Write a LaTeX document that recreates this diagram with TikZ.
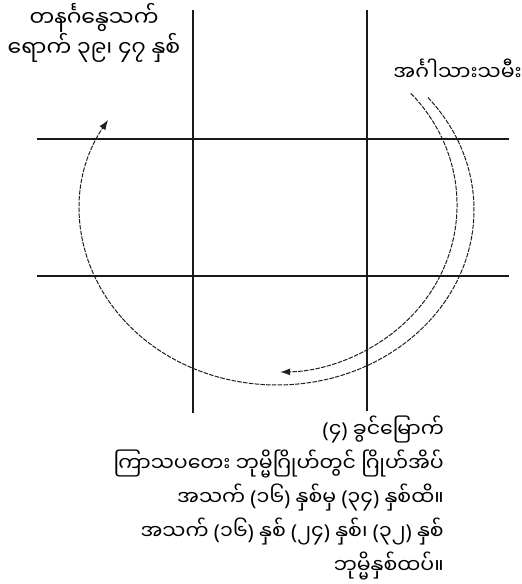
\documentclass[tikz,border=0pt]{standalone}
\usepackage{fontspec}
\newfontfamily\mmfont[Script=Myanmar]{Noto Sans Myanmar UI}
\newfontfamily\parfont{Noto Sans}
\newcommand{\mmlp}{{\parfont(}}
\newcommand{\mmrp}{{\parfont)}}
\usetikzlibrary{arrows.meta, positioning}
\definecolor{GridInk}{RGB}{25, 25, 25}
\definecolor{ArcInk} {RGB}{30, 30, 30}
\tikzset{
  % House grid lines
  gridline/.style={
    line width=1.2pt, color=GridInk
  },
  % Dashed orbit arcs
  orbit/.style={
    line width=1pt, color=ArcInk, dash pattern=on 4.5pt off 1.3pt,
    -{Latex[length=10pt, width=7pt]}
  },
  % Burmese text
  mmtext/.style={
    font=\mmfont\fontsize{20.5}{30}\selectfont, inner sep=0pt
  }
}

\begin{document}
\begin{tikzpicture}[x=1pt, y=1pt]
  \useasboundingbox (0,0) rectangle (522,-584);

  % ── Grid ──────────────────────────────────────────────────────────────────
  \coordinate (colA top) at (193,-10);  \coordinate (colA bot) at (193,-413);
  \coordinate (colB top) at (367,-10);  \coordinate (colB bot) at (367,-411);
  \coordinate (rowA lft) at (37,-139);  \coordinate (rowA rgt) at (509,-139);
  \coordinate (rowB lft) at (37,-276);  \coordinate (rowB rgt) at (509,-276);

  \draw[gridline] (colA top) -- (colA bot);
  \draw[gridline] (colB top) -- (colB bot);
  \draw[gridline] (rowA lft) -- (rowA rgt);
  \draw[gridline] (rowB lft) -- (rowB rgt);

  % ── Labels ────────────────────────────────────────────────────────────────
  \node[mmtext, align=center, font=\mmfont\fontsize{22}{30}\selectfont]
        (sun) at (94,-33)
        {တနင်္ဂနွေသက်\\ရောက် ၃၉၊ ၄၇ နှစ်};
  \node[mmtext, anchor=east] (tue) at (522,-70) {အင်္ဂါသားသမီး};

  \node[mmtext, align=right, anchor=north east,
        font=\mmfont\fontsize{20.5}{34}\selectfont] (note) at (444,-416)
  {%
    \mmlp၄\mmrp{} ခွင်မြောက်\\
    ကြာသပတေး ဘုမ္မိဂြိုဟ်တွင် ဂြိုဟ်အိပ်\\
    အသက် \mmlp၁၆\mmrp{} နှစ်မှ \mmlp၃၄\mmrp{} နှစ်ထိ။\\
    အသက် \mmlp၁၆\mmrp{} နှစ် \mmlp၂၄\mmrp{} နှစ်၊ \mmlp၃၂\mmrp{} နှစ်\\
    ဘုမ္မိနှစ်ထပ်။%
  };

  % ── Orbits from the label ─────────────────────────────────────────────────
  \coordinate (outer start) at (427.9,-97.5);
  \coordinate (inner start) at (410.8,-93.3);

  \draw[orbit] (outer start) arc[start angle=40, end angle=-211,
                                 x radius=197, y radius=175];
  \draw[orbit] (inner start) arc[start angle=42, end angle=-89,
                                 x radius=180, y radius=167];

\end{tikzpicture}
\end{document}
